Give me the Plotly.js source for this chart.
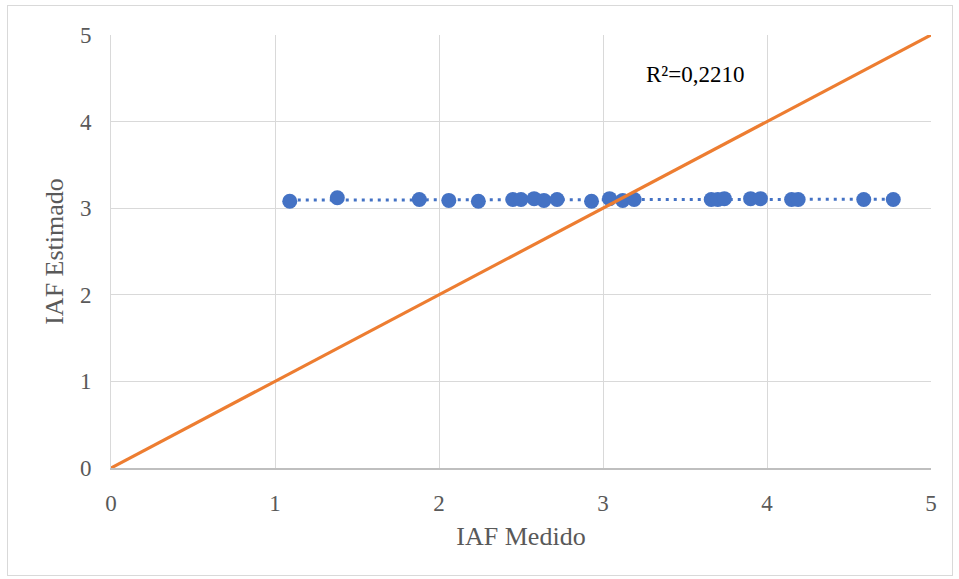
<!DOCTYPE html>
<html>
<head>
<meta charset="utf-8">
<script src="https://cdn.plot.ly/plotly-3.0.1.min.js"></script>
<style>
  html, body { margin: 0; padding: 0; background: #fff; }
  #wrap { position: relative; width: 959px; height: 579px; }
  #chart { width: 959px; height: 579px; }
  #frame { position: absolute; left: 7px; top: 5px; width: 944px; height: 569px; border: 1px solid #d9d9d9; pointer-events: none; }
</style>
</head>
<body>
<div id="wrap">
  <div id="chart"></div>
  <div id="frame"></div>
</div>
<script>
// Data
var iafMedido   = [1.09, 1.38, 1.88, 2.06, 2.24, 2.45, 2.50, 2.58, 2.64, 2.72, 2.93, 3.04, 3.12, 3.19, 3.66, 3.70, 3.74, 3.90, 3.96, 4.15, 4.19, 4.59, 4.77];
var iafEstimado = [3.08, 3.12, 3.10, 3.09, 3.08, 3.10, 3.10, 3.11, 3.09, 3.10, 3.08, 3.11, 3.09, 3.10, 3.10, 3.10, 3.11, 3.11, 3.11, 3.10, 3.10, 3.10, 3.10];
var lineaX = [0, 5];
var lineaY = [0, 5];
var tickVals = [0, 1, 2, 3, 4, 5];
var r2Label = "R²=0,2210";

// Linear trendline (least squares) computed from the data
var n = iafMedido.length, sx = 0, sy = 0, sxx = 0, sxy = 0;
for (var i = 0; i < n; i++) { sx += iafMedido[i]; sy += iafEstimado[i]; sxx += iafMedido[i]*iafMedido[i]; sxy += iafMedido[i]*iafEstimado[i]; }
var slope = (n*sxy - sx*sy) / (n*sxx - sx*sx);
var inter = (sy - slope*sx) / n;
var xMin = Math.min.apply(null, iafMedido), xMax = Math.max.apply(null, iafMedido);
var trendX = [xMin, xMax];
var trendY = [inter + slope*xMin, inter + slope*xMax];

var font = "Liberation Serif, Times New Roman, serif";
var grey = "#595959";

var traces = [
  { x: trendX, y: trendY, mode: "lines", type: "scatter",
    line: { color: "#4472C4", width: 3, dash: "3px,5px" }, hoverinfo: "skip" },
  { x: iafMedido, y: iafEstimado, mode: "markers", type: "scatter",
    marker: { color: "#4472C4", size: 15 } },
  { x: lineaX, y: lineaY, mode: "lines", type: "scatter",
    line: { color: "#ED7D31", width: 3.2 } }
];

var layout = {
  width: 959, height: 579,
  margin: { l: 111, r: 28, t: 35, b: 111 },
  paper_bgcolor: "#fff", plot_bgcolor: "#fff",
  showlegend: false,
  font: { family: font, color: grey, size: 23 },
  xaxis: {
    range: [0, 5], tickvals: tickVals, ticks: "", ticklabelstandoff: 14,
    showgrid: true, gridcolor: "#d9d9d9", gridwidth: 1,
    zeroline: false, showline: true, linecolor: "#bfbfbf", linewidth: 1.5,
    tickfont: { family: font, size: 23, color: grey },
    title: { text: "IAF Medido", font: { family: font, size: 26, color: grey }, standoff: 11 },
    fixedrange: true
  },
  yaxis: {
    range: [0, 5], tickvals: tickVals, ticks: "", ticklabelstandoff: 14,
    showgrid: true, gridcolor: "#d9d9d9", gridwidth: 1,
    zeroline: false, showline: true, linecolor: "#d9d9d9", linewidth: 1,
    tickfont: { family: font, size: 23, color: grey },
    title: { text: "IAF Estimado", font: { family: font, size: 26, color: grey }, standoff: 8 },
    fixedrange: true
  },
  annotations: [
    { x: 3.25, y: 4.54, xref: "x", yref: "y", text: r2Label, showarrow: false,
      xanchor: "left", yanchor: "middle", font: { family: font, size: 23, color: "#000" } }
  ]
};

Plotly.newPlot("chart", traces, layout, { staticPlot: true, displayModeBar: false });
</script>
</body>
</html>
